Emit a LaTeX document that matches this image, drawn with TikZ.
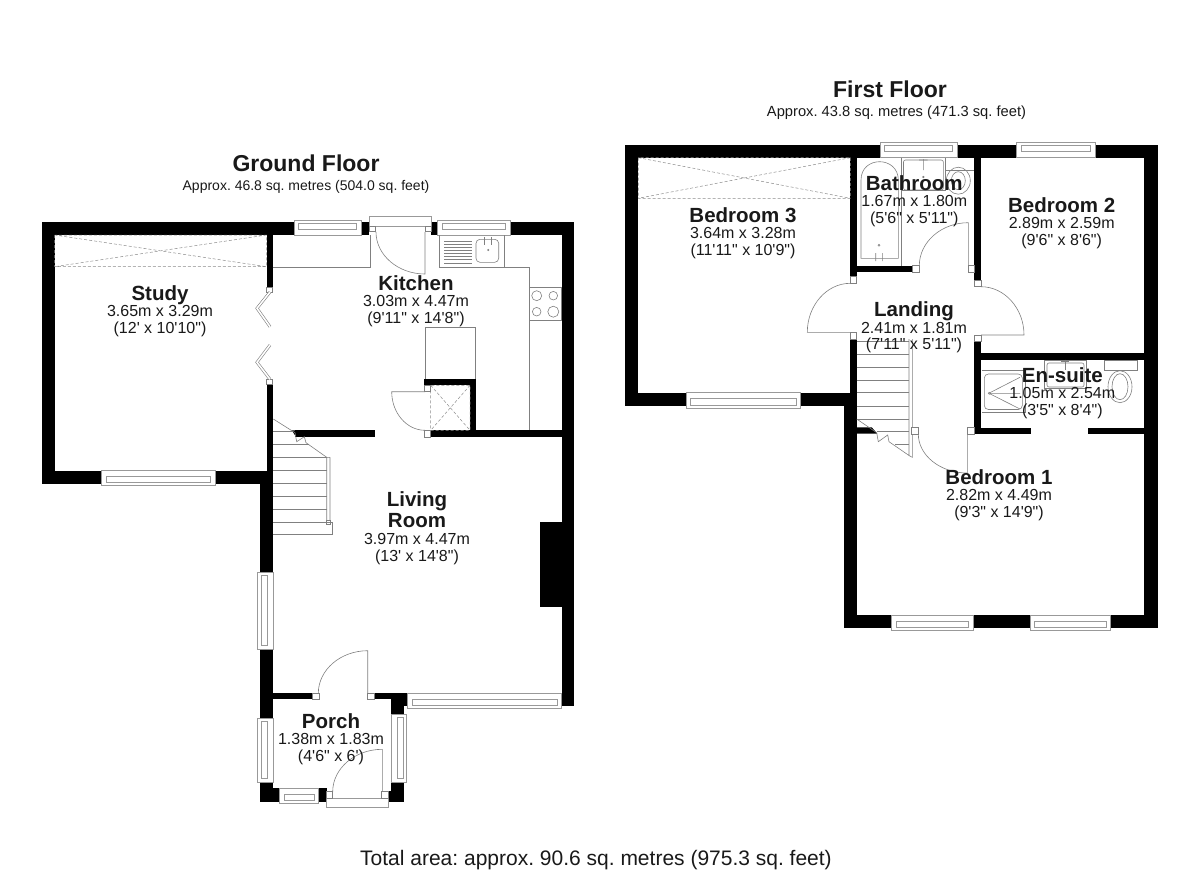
\documentclass[tikz,border=0pt]{standalone}
\usepackage{fontspec}
\newfontfamily\planfont{Liberation Sans}
\newcommand{\roomname}[1]{{\fontsize{20.5}{16.6}\selectfont\bfseries #1}}
\tikzset{
  wall/.style={fill=black},
  fixture/.style={draw=black!50,line width=0.6pt},
  windowframe/.style={draw=black!40,fill=white,line width=0.7pt},
  doorline/.style={draw=black!50,line width=0.6pt},
  jamb/.style={draw=black!50,fill=white,line width=0.6pt},
  hiddenline/.style={draw=black!45,densely dashed,line width=0.5pt},
  roomtext/.style={anchor=base,inner sep=0pt,align=center,text=black!90,font=\planfont\fontsize{16}{16.6}\selectfont},
  floortitle/.style={anchor=base,inner sep=0pt,text=black!90,font=\planfont\fontsize{23}{24}\selectfont\bfseries},
  floorarea/.style={anchor=base,inner sep=0pt,text=black!90,font=\planfont\fontsize{14}{16}\selectfont},
  totalarea/.style={anchor=base,inner sep=0pt,text=black!90,font=\planfont\fontsize{21}{24}\selectfont}
}
\begin{document}
\frenchspacing
\begin{tikzpicture}[x=1pt,y=-1pt]
\useasboundingbox (0,0) rectangle (1200,873);
\foreach \xa/\ya/\xb/\yb in {
  41.5/222/294/235, 361/222/369/235, 431/222/437.5/235, 510.5/222/574.3/235,
  41.5/222/54.5/483.5, 54.5/470.7/101.3/483.5, 215.3/470.7/273.3/483.5,
  266.7/235/272.7/287.3, 266.7/384/273.3/471, 260/483/273.3/572, 260/649.3/273.3/718,
  273.3/693.3/312.7/699.3, 374.3/693.3/407.7/699.3, 391/693.3/407.7/706, 391/706/404/714,
  260/782.3/273.3/801.7, 273/788.3/279.3/801.7, 318.7/788.3/326.7/801.7,
  391/782.3/404/801.7, 388.3/791/391/801.7, 561.7/222/574.3/706, 295/430.3/375/437,
  424/378.7/476.3/385.3, 470/378.7/476.3/430.3, 430.7/430.3/561.7/437, 539.5/522/561.7/606.5,
  625/144.7/880/157.7, 957.3/144.7/1016.7/157.7, 1095/144.7/1157.7/157.7,
  625/144.7/638.3/406, 638.3/392.7/686/406, 800.7/392.7/856.7/406,
  850.3/157.7/856.7/276.7, 850.3/339/856.7/393, 844/393/856.7/628.3,
  856.7/265.7/912.7/272.3, 974.3/157.7/981/280, 974.3/341.7/981/434,
  974.3/353.3/1144.3/360, 981/427.7/1031/434, 1088.3/427.7/1144.3/434,
  1144.3/144.7/1157.7/628.3, 856.7/615/891.7/628.3, 973.3/615/1030/628.3, 1110.7/615/1144.3/628.3}
  \fill[wall] (\xa,\ya) rectangle (\xb,\yb);
\fill[wall] (291.7,430.3) -- (296,436.7) -- (300,436.7) -- (300,430.3) -- cycle;
\fill[wall] (856.7,427.3) -- (871.7,427.3) -- (877.3,433.7) -- (856.7,433.7) -- cycle;
\foreach \xa/\ya/\xb/\yb in {
  294/220/361/235, 437.5/220/510.5/235, 880/142.7/957.3/157.7, 1016.7/142.7/1095/157.7}
  \draw[windowframe] (\xa,\ya) rectangle (\xb,\yb) ([shift={(4.7,3)}]\xa,\ya) rectangle ([shift={(-4.7,-6)}]\xb,\yb);
\foreach \xa/\ya/\xb/\yb in {
  101.3/470.7/215.3/485.7, 407.7/693.3/561.7/708.3, 279.3/788.3/318.7/803.3,
  686/392.7/800.7/408.3, 891.7/615.7/973.3/630.7, 1030/615.7/1110.7/630.7}
  \draw[windowframe] (\xa,\ya) rectangle (\xb,\yb) ([shift={(4.7,6)}]\xa,\ya) rectangle ([shift={(-4.7,-3)}]\xb,\yb);
\foreach \xa/\ya/\xb/\yb/\xc/\xd in {
  257.3/572/273.3/649.3/261/267, 257.3/718.3/273.3/782.3/261/267, 391/714/406.3/782.3/397.3/403.3}
  \draw[windowframe] (\xa,\ya) rectangle (\xb,\yb) (\xc,\ya+3.5) rectangle (\xd,\yb-3.5);
\foreach \xa/\ya/\xb/\yb in {54.5/235/266.5/266.7, 638.3/157.7/850.3/198.3, 430.7/385.3/470/430.3}
  \draw[hiddenline] (\xa,\ya) rectangle (\xb,\yb) (\xa,\ya) -- (\xb,\yb) (\xb,\ya) -- (\xa,\yb);
\foreach \xa/\ya/\xb/\yb in {369/216.7/431/226.7, 326.7/798.3/388.7/807}
  \draw[windowframe] (\xa,\ya) rectangle (\xb,\yb);
\foreach \hx/\hy/\lx/\ly/\ex/\ey in {
  425/232/425/274/376/232, 425/391.7/391.7/391.7/425/430.3, 367.7/693.3/367.7/650.7/318.3/693.3,
  382.3/791.7/382.3/749.3/332.7/791.7, 850.3/332.3/807.3/332.3/850.3/283.3, 968.3/265.7/968.3/222.7/919.3/265.7,
  981/335/1024/335/981/286.7, 967.3/434/967.3/473/918.3/434}
  \draw[doorline] (\hx,\hy) -- (\lx,\ly) .. controls ({\lx+.55*(\ex-\hx)},{\ly+.55*(\ey-\hy)}) and ({\ex+.55*(\lx-\hx)},{\ey+.55*(\ly-\hy)}) .. (\ex,\ey);
\foreach \xa/\ya/\xb/\yb in {
  266.7/287.3/272.7/292, 266.7/379.3/272.7/384, 369/226.7/375.7/231.7, 425/226.7/431/231.7,
  424/385.3/430.7/391.7, 424/430.3/430.7/437, 312.7/693.3/319.3/699.3, 367.7/693.3/374.3/699.3,
  326.7/791.7/332.7/798.3, 381.7/791.7/388.3/798.3, 850.3/276.7/856.7/283.3, 850.3/332.3/856.7/339,
  912.7/265.7/919.3/272.3, 968.3/265.7/974.3/272.3, 974.3/280/981/286.7, 974.3/335/981/341.7,
  911.5/427.5/918/434, 967.7/427.7/974.3/434, 326.3/520/330.7/524.3}
  \draw[jamb] (\xa,\ya) rectangle (\xb,\yb);
\draw[doorline,double=white,double distance=1.6pt] (270,292) -- (257,308.3) -- (270,326.7);
\draw[doorline,double=white,double distance=1.6pt] (270,379.3) -- (257,362.3) -- (270,345);
\draw[fixture] (272.7,267.3) -- (370.7,267.3) -- (370.7,235);
\draw[fixture] (439.3,235) -- (439.3,267.3) -- (529,267.3) -- (529,430.3);
\draw[fixture] (504,235) -- (504,267.3);
\foreach \y in {240.7,243.8,247,250.1,253.3,256.4,259.6,262.7}
  \draw[fixture,line width=0.4pt] (444,\y) -- (472,\y);
\draw[fixture,rounded corners=4pt] (476,239.3) rectangle (498.7,262.3);
\draw[fixture] (484,237) -- (484,245) (491.3,237) -- (491.3,245);
\draw[fixture] (488.3,250) circle (0.7);
\draw[fixture] (529,287.3) rectangle (561.7,320);
\draw[fixture] (536.7,295.7) circle (5) (553.3,295.7) circle (4.3) (536.7,311.7) circle (4.3) (553.3,311.7) circle (5.5);
\draw[fixture] (425,378.7) -- (425,327) -- (475.7,327) -- (475.7,378.7);
\foreach \y/\xe in {431.7/293,444.7/309,457.3/326.7,470.7/326.7,483.3/326.7,496.3/326.7,509/326.7,522/332.7,534.7/332.7}
  \draw[fixture] (273.3,\y) -- (\xe,\y);
\draw[fixture] (273.3,419) -- (295,432.7) -- (296.7,441.7) -- (304.3,436.7) -- (306,442.7) -- (326.7,457.3) -- (326.7,520) (330,457.3) -- (330,520) (326.7,457.3) -- (330,457.3);
\draw[fixture] (332.7,522) -- (332.7,534.7);
\foreach \y/\xa in {341.7/856.7,354/856.7,367.3/856.7,380/856.7,392.7/856.7,406/856.7,419/856.7,431.7/877,444.3/895}
  \draw[fixture] (\xa,\y) -- (909,\y);
\draw[fixture] (856.7,419) -- (876.7,432.7) -- (878.3,441.7) -- (887.7,435) -- (889,441.7) -- (909,455.5) -- (909,339) (912.3,339) -- (912.3,427.5) (912.3,434) -- (912.3,457.3) -- (909,455.5);
\draw[fixture] (861,258.3) -- (861,180) .. controls (861,168) and (870,161.7) .. (879.6,161.7) .. controls (889,161.7) and (898.3,168) .. (898.3,180) -- (898.3,258.3) -- cycle;
\draw[fixture] (875.7,253) -- (875.7,261) (882.3,253) -- (882.3,261) (879,245.3) circle (1);
\draw[fixture] (901.7,157.7) -- (901.7,265.7) (901.7,190.7) -- (945,190.7) -- (945,157.7);
\draw[fixture,rounded corners=2pt] (903.5,160) rectangle (943.3,190);
\draw[fixture] (923.3,159) -- (923.3,170) (919,160) -- (927.5,160) (923.3,177) circle (0.8);
\draw[fixture] (945,170) -- (974.3,170);
\draw[fixture] (958.3,180.7) ellipse (12 and 13.5) (958.3,180.7) ellipse (7 and 9);
\draw[fixture] (981.7,370.7) -- (1025,370.7) -- (1025,412.7) -- (981.7,412.7);
\draw[fixture,rounded corners=4pt] (984.3,374) rectangle (1022.3,409.5);
\draw[fixture] (989.3,393.3) circle (1) (990.3,392.5) -- (1020,377.3) (990.3,393.3) -- (1020,393.3) (990.3,394) -- (1020,409);
\draw[fixture] (1044,360) rectangle (1086.7,388.3);
\draw[fixture,rounded corners=2pt] (1047,363) rectangle (1084,387);
\draw[fixture] (1065,359.5) -- (1065,370) (1061,361) -- (1069,361);
\draw[fixture] (1104.3,360) rectangle (1137.3,370.7);
\draw[fixture] (1120,386.7) ellipse (12 and 16) (1120,386.7) ellipse (8 and 13);
\node[floortitle] (groundtitle) at (306,171.7) {Ground Floor};
\node[floorarea] (groundarea) at (306,190) {Approx. 46.8 sq. metres (504.0 sq. feet)};
\node[floortitle] (firsttitle) at (890,97.7) {First Floor};
\node[floorarea,font=\planfont\fontsize{14.7}{16}\selectfont] (firstarea) at (896.5,116) {Approx. 43.8 sq. metres (471.3 sq. feet)};
\node[totalarea] (total) at (596,865.5) {Total area: approx. 90.6 sq. metres (975.3 sq. feet)};
\node[roomtext] (study) at (160,333.2) {\roomname{Study}\\3.65m x 3.29m\\(12' x 10'10")};
\node[roomtext] (kitchen) at (416,323.2) {\roomname{Kitchen}\\3.03m x 4.47m\\(9'11" x 14'8")};
\node[roomtext] (living) at (417,561) {\roomname{Living}\\[2pt]\roomname{Room}\\3.97m x 4.47m\\(13' x 14'8")};
\node[roomtext] (porch) at (331,761.5) {\roomname{Porch}\\1.38m x 1.83m\\(4'6" x 6')};
\node[roomtext] (bedthree) at (743,255.5) {\roomname{Bedroom 3}\\3.64m x 3.28m\\(11'11" x 10'9")};
\node[roomtext] (bathroom) at (914.3,223.2) {\roomname{Bathroom}\\1.67m x 1.80m\\(5'6" x 5'11")};
\node[roomtext] (bedtwo) at (1061.7,245.5) {\roomname{Bedroom 2}\\2.89m x 2.59m\\(9'6" x 8'6")};
\node[roomtext] (landing) at (914,349.9) {\roomname{Landing}\\2.41m x 1.81m\\(7'11" x 5'11")};
\node[roomtext] (ensuite) at (1062.3,415.5) {\roomname{En-suite}\\1.05m x 2.54m\\(3'5" x 8'4")};
\node[roomtext] (bedone) at (999,517.5) {\roomname{Bedroom 1}\\2.82m x 4.49m\\(9'3" x 14'9")};
\end{tikzpicture}
\end{document}
